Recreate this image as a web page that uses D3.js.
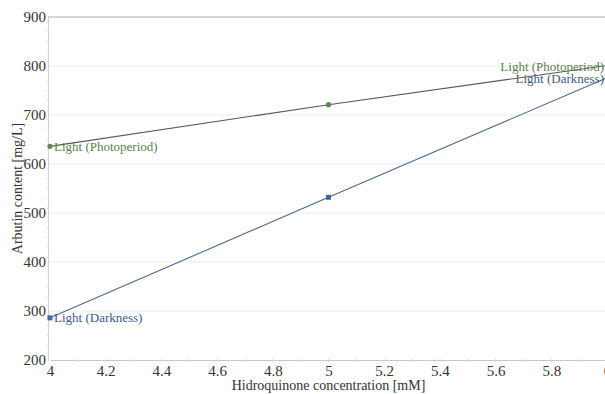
<!DOCTYPE html>
<html>
<head>
<meta charset="utf-8">
<script src="https://cdn.jsdelivr.net/npm/d3@7"></script>
<style>
  body { margin: 0; background: #fff; }
  text { font-family: "Liberation Serif", "DejaVu Serif", serif; }
</style>
</head>
<body>
<svg id="chart"></svg>
<script>
// data
const concentrations = [4, 5, 6];
const photoperiod = [636, 721, 801];
const darkness = [286, 532, 776];
const seriesNames = ["Light (Photoperiod)", "Light (Darkness)"];
const xTicks = [4, 4.2, 4.4, 4.6, 4.8, 5, 5.2, 5.4, 5.6, 5.8, 6];
const yTicks = [200, 300, 400, 500, 600, 700, 800, 900];

const width = 605, height = 394;
const margin = { top: 17, right: -2, bottom: 34, left: 50 };
const serif = '"Liberation Serif", "DejaVu Serif", serif';

const svg = d3.select('#chart')
    .attr('width', width)
    .attr('height', height);

const x = d3.scaleLinear()
    .domain([4, 6])
    .range([margin.left, width - margin.right]);

const y = d3.scaleLinear()
    .domain([200, 900])
    .range([height - margin.bottom, margin.top]);

// horizontal grid
svg.append('g')
    .selectAll('line')
    .data(yTicks.slice(1, -1))
    .join('line')
    .attr('x1', x(4) - 2).attr('x2', width)
    .attr('y1', d => y(d)).attr('y2', d => y(d))
    .attr('stroke', '#ececec');

// top border
svg.append('line')
    .attr('x1', x(4) - 2).attr('x2', width)
    .attr('y1', y(900)).attr('y2', y(900))
    .attr('stroke', '#c8c8c8').attr('stroke-width', 1.5);

// x axis
const xAxis = svg.append('g')
    .attr('transform', `translate(0,${y(200)})`)
    .call(d3.axisBottom(x).tickValues(xTicks).tickSize(0).tickPadding(5)
        .tickFormat(d3.format('~g')));
xAxis.attr('font-family', serif);
xAxis.select('.domain').attr('stroke', '#c8c8c8').attr('stroke-width', 1.2);
xAxis.selectAll('text').attr('font-size', 15).attr('fill', '#333');

// minor x ticks
svg.append('g')
    .selectAll('line')
    .data(d3.range(41, 60).map(v => v / 10))
    .join('line')
    .attr('x1', d => x(d)).attr('x2', d => x(d))
    .attr('y1', y(200) - 1).attr('y2', y(200) + 2)
    .attr('stroke', '#d6d6d6');

// y axis
const yAxis = svg.append('g')
    .attr('transform', `translate(${x(4) - 2},0)`)
    .call(d3.axisLeft(y).tickValues(yTicks).tickSize(0).tickPadding(2));
yAxis.attr('font-family', serif);
yAxis.select('.domain').attr('stroke', '#d0d0d0').attr('stroke-width', 1);
yAxis.selectAll('text').attr('font-size', 15).attr('fill', '#333');

// minor y ticks
svg.append('g')
    .selectAll('line')
    .data(d3.range(210, 900, 20))
    .join('line')
    .attr('x1', x(4) - 3).attr('x2', x(4) - 1)
    .attr('y1', d => y(d)).attr('y2', d => y(d))
    .attr('stroke', '#dadada');

// axis titles
svg.append('text')
    .attr('transform', `translate(17,${(y(200) + y(900)) / 2}) rotate(-90)`)
    .attr('text-anchor', 'middle')
    .attr('dy', '0.35em')
    .attr('font-size', 14)
    .attr('fill', '#333')
    .text('Arbutin content [mg/L]');

svg.append('text')
    .attr('x', x(5))
    .attr('y', 390)
    .attr('text-anchor', 'middle')
    .attr('font-size', 14)
    .attr('fill', '#333')
    .text('Hidroquinone concentration [mM]');

const line = d3.line()
    .x(d => x(d[0]))
    .y(d => y(d[1]));

const series = [
    { name: seriesNames[0], values: photoperiod, line: '#555a55', color: '#5e8a52', label: '#5b7f4e', shape: 'circle' },
    { name: seriesNames[1], values: darkness, line: '#4b6a8f', color: '#3f6aa3', label: '#3d5b83', shape: 'square' }
];

series.forEach((s, i) => {
    const pts = concentrations.map((c, j) => [c, s.values[j]]);

    svg.append('path')
        .datum(pts)
        .attr('fill', 'none')
        .attr('stroke', s.line)
        .attr('stroke-width', 1.1)
        .attr('d', line);

    if (s.shape === 'circle') {
        svg.append('g').selectAll('circle')
            .data(pts.slice(0, 2))
            .join('circle')
            .attr('cx', d => x(d[0]))
            .attr('cy', d => y(d[1]))
            .attr('r', 2.6)
            .attr('fill', s.color);
    } else {
        svg.append('g').selectAll('rect')
            .data(pts.slice(0, 2))
            .join('rect')
            .attr('x', d => x(d[0]) - 2.5)
            .attr('y', d => y(d[1]) - 2.5)
            .attr('width', 5).attr('height', 5)
            .attr('fill', s.color);
    }

    // label at start
    svg.append('text')
        .attr('x', x(4) + 4)
        .attr('y', y(s.values[0]))
        .attr('dy', '0.35em')
        .attr('font-size', 13)
        .attr('fill', s.label)
        .text(s.name);

    // label at end
    svg.append('text')
        .attr('x', width - 1)
        .attr('y', i === 0 ? 66 : 78)
        .attr('dy', '0.35em')
        .attr('text-anchor', 'end')
        .attr('font-size', 13)
        .attr('fill', s.label)
        .text(s.name);
});
</script>
</body>
</html>
